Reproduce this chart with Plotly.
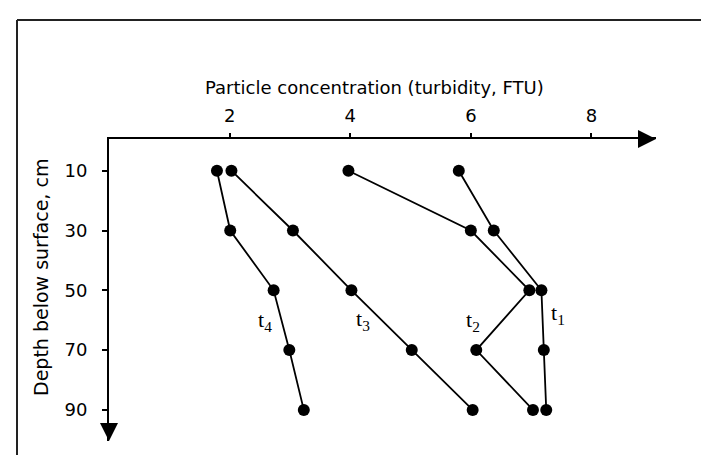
import plotly.graph_objects as go

# ---- data ----
depths = [10, 30, 50, 70, 90]
t1 = [5.80, 6.38, 7.17, 7.21, 7.25]
t2 = [3.97, 6.00, 6.97, 6.09, 7.03]
t3 = [2.03, 3.05, 4.02, 5.02, 6.03]
t4 = [1.79, 2.01, 2.73, 2.99, 3.23]
series = [t1, t2, t3, t4]

label_texts = ["t<sub>1</sub>", "t<sub>2</sub>", "t<sub>3</sub>", "t<sub>4</sub>"]
label_x = [7.44, 6.03, 4.21, 2.58]
label_y = [58, 60.4, 59.9, 60.3]

x_ticks = [2, 4, 6, 8]
y_ticks = [10, 30, 50, 70, 90]
x_title = "Particle concentration (turbidity, FTU)"
y_title = "Depth below surface, cm"

# ---- layout geometry ----
W, H = 709, 455
ML, MR, MT, MB = 101, 61, 131, 22
XR = [0, 9.07]
YR = [100.4, -0.6]
PW, PH = W - ML - MR, H - MT - MB

def px(x):
    return (x - ML) / PW

def py(y):
    return (H - MB - y) / PH

SANS = "DejaVu Sans, Verdana, sans-serif"
SERIF = "Liberation Serif, Times New Roman, serif"

fig = go.Figure()
for s in series:
    fig.add_trace(go.Scatter(
        x=s, y=depths, mode="lines+markers",
        line=dict(color="black", width=1.8),
        marker=dict(color="black", size=12),
        showlegend=False, cliponaxis=False,
    ))

annotations = []
for t, lx, ly in zip(label_texts, label_x, label_y):
    annotations.append(dict(x=lx, y=ly, xref="x", yref="y", text=t, showarrow=False,
                            font=dict(family=SERIF, size=22, color="black")))

annotations.append(dict(x=px(366), y=py(80), xref="paper", yref="paper", text=x_title,
                        showarrow=False, xanchor="center", yanchor="middle",
                        font=dict(family=SANS, size=18, color="black")))
annotations.append(dict(x=px(33), y=py(270), xref="paper", yref="paper", text=y_title,
                        showarrow=False, xanchor="center", yanchor="middle", textangle=-90,
                        font=dict(family=SANS, size=19, color="black")))

# arrow heads on the axes
annotations.append(dict(x=XR[1], y=YR[1], xref="x", yref="y", ax=-18, ay=0, text="",
                        showarrow=True, arrowhead=2, arrowsize=1.8, arrowwidth=2, arrowcolor="black"))
annotations.append(dict(x=0, y=YR[0], xref="x", yref="y", ax=0, ay=-18, text="",
                        showarrow=True, arrowhead=2, arrowsize=1.8, arrowwidth=2, arrowcolor="black"))

shapes = [
    dict(type="line", xref="paper", yref="paper", x0=px(9), x1=px(9), y0=py(12), y1=py(H + 5),
         line=dict(color="#222", width=2)),
    dict(type="line", xref="paper", yref="paper", x0=px(9), x1=px(W + 5), y0=py(12), y1=py(12),
         line=dict(color="#222", width=2)),
]

fig.update_layout(
    width=W, height=H,
    margin=dict(l=ML, r=MR, t=MT, b=MB, pad=0),
    paper_bgcolor="white", plot_bgcolor="white",
    annotations=annotations, shapes=shapes,
    xaxis=dict(range=XR, side="top", showline=True, linecolor="black", linewidth=2,
               ticks="outside", ticklen=4, tickwidth=1.5, tickcolor="black",
               tickvals=x_ticks, showgrid=False, zeroline=False, ticklabelstandoff=4,
               tickfont=dict(family=SANS, size=18, color="black")),
    yaxis=dict(range=YR, showline=True, linecolor="black", linewidth=2,
               ticks="outside", ticklen=5, tickwidth=1.5, tickcolor="black",
               tickvals=y_ticks, showgrid=False, zeroline=False, ticklabelstandoff=11,
               tickfont=dict(family=SANS, size=18, color="black")),
)

fig.write_html("out.html")
